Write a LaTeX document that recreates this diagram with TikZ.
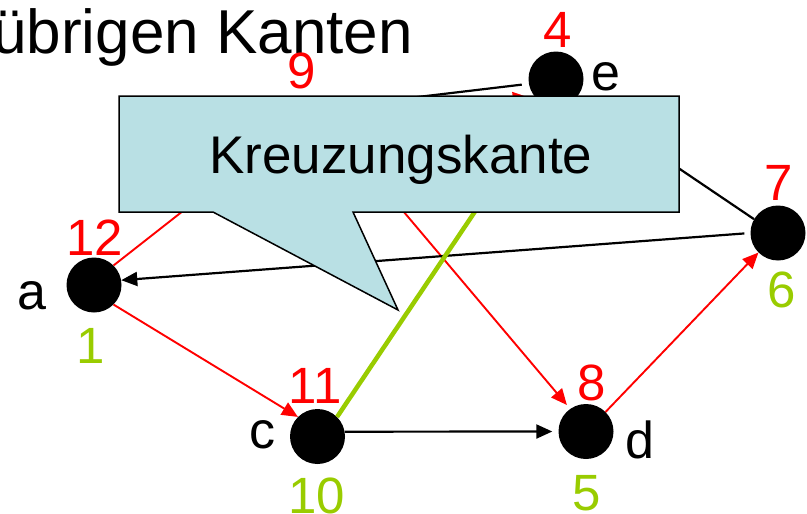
\documentclass[tikz,border=0pt]{standalone}
\usepackage{fontspec}
\setmainfont{Liberation Sans}
\usetikzlibrary{arrows.meta}

\definecolor{crossgreen}{RGB}{153,204,0}
\definecolor{bubbleblue}{RGB}{185,224,228}

\begin{document}
\begin{tikzpicture}[
    x=1pt, y=-1pt,
    vertex/.style={
        circle, fill=black, minimum size=55pt, inner sep=0pt
    },
    vname/.style={font=\fontsize{52}{60}\selectfont, inner sep=0pt, anchor=base},
    fin/.style={font=\fontsize{51}{60}\selectfont, text=red, inner sep=0pt, anchor=base},
    disc/.style={font=\fontsize{51}{60}\selectfont, text=crossgreen, inner sep=0pt, anchor=base},
    treeedge/.style={->, draw=red, line width=1.9pt},
    otheredge/.style={->, draw=black, line width=2.2pt},
    crossedge/.style={->, draw=crossgreen, line width=4.5pt},
    bubble/.style={fill=bubbleblue, draw=black, line width=1.5pt, line join=miter},
    >={Triangle[length=16pt, width=14pt]}
]
\useasboundingbox (0,0) rectangle (807,514);
\clip (0,0) rectangle (807,514);

\node[anchor=base east, inner sep=0pt, font=\fontsize{62}{70}\selectfont] (title) at (413,53) {übrigen Kanten};

\node[vertex] (a) at (94,285)      {};
\node[vertex] (b) at (319,126)     {};
\node[vertex] (c) at (317.5,436.5) {};
\node[vertex] (d) at (586,431.5)   {};
\node[vertex] (e) at (556,79)      {};
\node[vertex] (f) at (778,233)     {};

\node[vname] (la) at (32,309)  {a};
\node[vname] (lc) at (262,448) {c};
\node[vname] (ld) at (640,458) {d};
\node[vname] (le) at (606,90)  {e};

\node[fin] (fa) at (95,255)  {12};
\node[fin] (fb) at (302,88)  {9};
\node[fin] (fc) at (315,403) {11};
\node[fin] (fd) at (592,400) {8};
\node[fin] (fe) at (558,47)  {4};
\node[fin] (ff) at (779,200) {7};

\node[disc] (da) at (91,363)  {1};
\node[disc] (dc) at (317,513) {10};
\node[disc] (dd) at (587,510) {5};
\node[disc] (df) at (782,307) {6};

% tree edges
\draw[treeedge] (a.north east) -- (b.west);
\draw[treeedge] (a.south east) -- (c.north west);
\draw[treeedge, shorten >=6pt] (b.20) -- (e.220);
\draw[treeedge, shorten >=5pt] (b.-30) -- (d.125);
\draw[treeedge] (d.north east) -- (f.south west);

% remaining edges
\draw[otheredge, shorten <=7pt] (e.190) -- (b.north east);
\draw[otheredge, shorten <=6pt] (f.west) -- (a.10);
\draw[otheredge] (f.150) -- (e.south east);
\draw[otheredge, shorten >=6pt] (c.10) -- (d.west);
\draw[crossedge] (c.north east) -- (e.-110);

% callout
\path[bubble] (119,96) -- (679,96) -- (679,212) -- (353,212) -- (398,310) -- (213,212) -- (119,212) -- cycle;
\node[anchor=base, inner sep=0pt, font=\fontsize{53}{60}\selectfont] (kante) at (401,173) {Kreuzungskante};

\end{tikzpicture}
\end{document}
